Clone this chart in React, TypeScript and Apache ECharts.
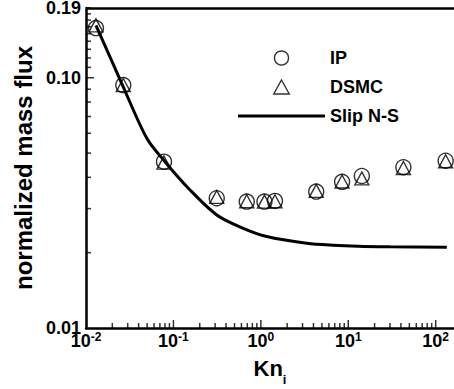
import React, { useEffect, useRef } from "react";
import * as echarts from "echarts";

const FONT = "'Liberation Sans', Arial, Helvetica, sans-serif";

// IP (circles)
const ipKn = [0.013, 0.0267, 0.078, 0.313, 0.69, 1.1, 1.45, 4.3, 8.5, 14.3, 42.7, 130];
const ipFlux = [0.158, 0.0935, 0.0462, 0.033, 0.032, 0.032, 0.0322, 0.0351, 0.0384, 0.0405, 0.0439, 0.0466];
// DSMC (triangles)
const dsmcKn = [0.013, 0.0267, 0.078, 0.313, 0.69, 1.1, 1.45, 4.3, 8.5, 14.3, 42.7, 130];
const dsmcFlux = [0.162, 0.0935, 0.0458, 0.0334, 0.0321, 0.032, 0.0321, 0.0353, 0.0385, 0.0396, 0.0436, 0.0464];
// Slip N-S (line)
const slipKn = [0.013, 0.0256, 0.0496, 0.08, 0.155, 0.313, 0.6, 1.17, 3.35, 6.7, 13, 30, 134];
const slipFlux = [0.162, 0.095, 0.0573, 0.0462, 0.0356, 0.0283, 0.0252, 0.0232, 0.0218, 0.0214, 0.0212, 0.0211, 0.021];

// axis ranges and ticks
const xMin = 0.01;
const xMax = 162;
const yMin = 0.01;
const yMax = 0.19;
const xMajorTicks = [0.1, 1, 10, 100];
const xMinorTicks = [
  0.02, 0.03, 0.04, 0.05, 0.06, 0.07, 0.08, 0.09,
  0.2, 0.3, 0.4, 0.5, 0.6, 0.7, 0.8, 0.9,
  2, 3, 4, 5, 6, 7, 8, 9,
  20, 30, 40, 50, 60, 70, 80, 90,
];
const yMajorTicks = [0.1];
const yMinorTicks = [
  0.02, 0.03, 0.04, 0.05, 0.06, 0.07, 0.08, 0.09,
  0.11, 0.12, 0.13, 0.14, 0.15, 0.16, 0.17, 0.18, 0.19,
];
// y-axis tick marks sit at the left edge of the x range
const yTickKn = 0.01001;

const seriesNames = ["IP", "DSMC", "Slip N-S"];

export default function App() {
  const ref = useRef<HTMLDivElement>(null);
  useEffect(() => {
    if (!ref.current) return;
    const chart = echarts.init(ref.current, undefined, { renderer: "svg" });
    const black = "#000";
    const hollow = { color: "transparent", borderColor: black, borderWidth: 1.4 };
    const tickSeries = (name: string, data: number[][], size: number[], offset: number[]) => ({
      type: "scatter",
      name,
      symbol: "rect",
      symbolSize: size,
      symbolOffset: offset,
      clip: false,
      itemStyle: { color: black },
      data,
      z: 5,
    });
    chart.setOption({
      animation: false,
      textStyle: { fontFamily: FONT },
      grid: { left: 86, top: 8, right: 0, bottom: 61, outerBoundsMode: "none" },
      legend: {
        orient: "vertical",
        left: 233,
        top: 44,
        itemWidth: 87,
        itemHeight: 14,
        itemGap: 11,
        selectedMode: false,
        textStyle: { fontSize: 18, fontWeight: "bold", fontFamily: FONT, color: black },
        data: [
          { name: seriesNames[0], icon: "circle", itemStyle: hollow },
          { name: seriesNames[1], icon: "path://M5,0 L10,9 L0,9 Z", itemStyle: hollow },
          {
            name: seriesNames[2],
            icon: "path://M0,0 L87,0 L87,3 L0,3 Z",
            itemStyle: { color: black, borderWidth: 0 },
          },
        ],
      },
      xAxis: {
        type: "log",
        logBase: 10,
        min: xMin,
        max: xMax,
        name: "{k|Kn}{i|i}",
        nameLocation: "middle",
        nameGap: 29,
        nameTextStyle: {
          rich: {
            k: { fontSize: 22, fontWeight: "bold", fontFamily: FONT, color: black, lineHeight: 24, verticalAlign: "top" },
            i: { fontSize: 13, fontWeight: "bold", fontFamily: FONT, color: black, lineHeight: 13, verticalAlign: "top", padding: [16, 0, 0, 0] },
          },
        },
        axisLine: { show: true, lineStyle: { color: black, width: 2.5 } },
        axisTick: { show: false },
        splitLine: { show: false },
        axisLabel: {
          margin: 3,
          showMinLabel: true,
          showMaxLabel: true,
          formatter: (v: number) => {
            const e = Math.log10(v);
            const r = Math.round(e);
            if (Math.abs(e - r) > 1e-6) return "";
            return `{b|10}{s|${r}}`;
          },
          rich: {
            b: { fontSize: 18, fontWeight: "bold", fontFamily: FONT, color: black, lineHeight: 20 },
            s: { fontSize: 12, fontWeight: "bold", fontFamily: FONT, color: black, lineHeight: 12, verticalAlign: "top" },
          },
        },
      },
      yAxis: {
        type: "log",
        logBase: 10,
        min: yMin,
        max: yMax,
        name: "normalized mass flux",
        nameLocation: "middle",
        nameGap: 50,
        nameTextStyle: { fontSize: 24, fontWeight: "bold", fontFamily: FONT, color: black },
        axisLine: { show: true, lineStyle: { color: black, width: 2.5 } },
        axisTick: { show: false },
        splitLine: { show: false },
        axisLabel: {
          margin: 5,
          showMinLabel: true,
          showMaxLabel: true,
          fontSize: 18,
          lineHeight: 17,
          fontWeight: "bold",
          fontFamily: FONT,
          color: black,
          formatter: (v: number) => v.toFixed(2),
        },
      },
      series: [
        {
          name: seriesNames[2],
          type: "line",
          symbol: "none",
          smooth: 0.3,
          lineStyle: { color: black, width: 3 },
          data: slipKn.map((x, i) => [x, slipFlux[i]]),
          markLine: {
            silent: true,
            symbol: ["none", "none"],
            label: { show: false },
            lineStyle: { color: black, width: 2.5, type: "solid" },
            emphasis: { disabled: true },
            data: [{ yAxis: yMax }],
          },
        },
        {
          name: seriesNames[1],
          type: "scatter",
          symbol: "triangle",
          symbolSize: [14, 13],
          itemStyle: hollow,
          data: dsmcKn.map((x, i) => [x, dsmcFlux[i]]),
        },
        {
          name: seriesNames[0],
          type: "scatter",
          symbol: "circle",
          symbolSize: 15,
          itemStyle: hollow,
          data: ipKn.map((x, i) => [x, ipFlux[i]]),
        },
        tickSeries("xminor", xMinorTicks.map((x) => [x, yMin]), [1.5, 5], [0, -2.5]),
        tickSeries("xmajor", xMajorTicks.map((x) => [x, yMin]), [1.5, 8], [0, -4]),
        tickSeries("yminor", yMinorTicks.map((y) => [yTickKn, y]), [5, 1.5], [2.5, 0]),
        tickSeries("ymajor", yMajorTicks.map((y) => [yTickKn, y]), [8, 1.5], [4, 0]),
      ],
    });
    return () => chart.dispose();
  }, []);
  return (
    <div
      ref={ref}
      style={{ position: "fixed", left: 0, top: 0, width: 454, height: 389, background: "#fff" }}
    />
  );
}
